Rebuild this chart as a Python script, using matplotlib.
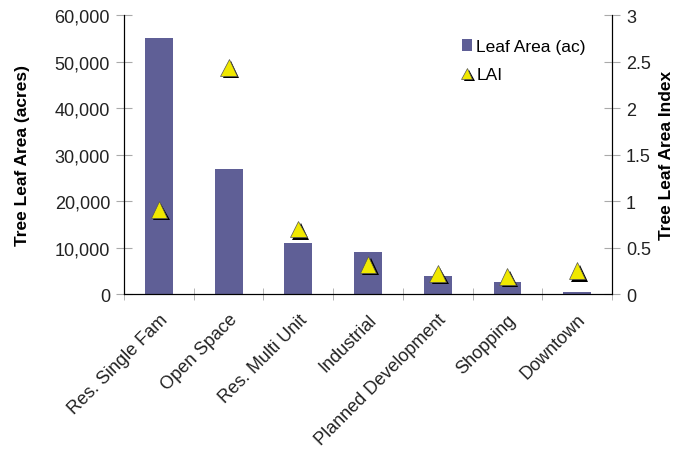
import numpy as np
import matplotlib.pyplot as plt
import matplotlib.patheffects as pe
import matplotlib.ticker as mticker
from matplotlib.lines import Line2D
from matplotlib.patches import Patch

plt.rcParams['font.family'] = ['Liberation Sans', 'DejaVu Sans']

categories = ["Res. Single Fam", "Open Space", "Res. Multi Unit", "Industrial",
              "Planned Development", "Shopping", "Downtown"]
leaf_area = [55000, 27000, 11000, 9000, 3900, 2600, 500]
lai = [0.91, 2.44, 0.70, 0.32, 0.22, 0.19, 0.25]

bar_color = "#5f5f96"
tri_color = "#f0e800"
shadow = [pe.SimplePatchShadow(offset=(1.8, -1.8), shadow_rgbFace="black", alpha=1.0),
          pe.Normal()]

fig = plt.figure(figsize=(6.75, 4.52), dpi=100)
ax = fig.add_axes([0.1837, 0.3473, 0.723, 0.617])
ax2 = ax.twinx()

x = np.arange(len(categories))
ax.bar(x, leaf_area, width=0.4, color=bar_color, zorder=2)
ax2.plot(x, lai, linestyle="none", marker="^", markersize=12, color=tri_color,
         markeredgecolor="#555555", markeredgewidth=0.5, zorder=3,
         path_effects=shadow)

ax.set_xlim(-0.5, len(categories) - 0.5)
ax.set_ylim(0, 60000)
ax2.set_ylim(0, 3)
ax.yaxis.set_major_locator(mticker.MultipleLocator(10000))
ax.yaxis.set_major_formatter(mticker.FuncFormatter(lambda v, _: f"{v:,.0f}"))
ax2.yaxis.set_major_locator(mticker.MultipleLocator(0.5))
ax2.yaxis.set_major_formatter(mticker.FuncFormatter(lambda v, _: f"{v:g}"))

ax.set_xticks(x)
ax.set_xticklabels(categories, rotation=45, ha="right", rotation_mode="anchor",
                   fontsize=13, color="#222222")
ax.tick_params(axis="x", length=0, pad=12)
ax.set_xticks(np.arange(len(categories) + 1) - 0.5, minor=True)
ax.tick_params(axis="x", which="minor", direction="inout", length=8, color="#aaaaaa")
ax.tick_params(axis="y", direction="inout", length=12, color="#aaaaaa",
               labelsize=13, labelcolor="#222222", pad=4)
ax2.tick_params(axis="y", direction="inout", length=12, color="#aaaaaa",
                labelsize=13, labelcolor="#222222", pad=4)

ax.set_ylabel("Tree Leaf Area (acres)", fontsize=12.5, fontweight="bold", labelpad=18)
ax2.set_ylabel("Tree Leaf Area Index", fontsize=12.5, fontweight="bold", labelpad=6)

for a in (ax, ax2):
    a.spines["top"].set_visible(False)

handles = [Patch(facecolor=bar_color, edgecolor="none"),
           Line2D([], [], linestyle="none", marker="^", markersize=8, color=tri_color,
                  markeredgecolor="#555555", markeredgewidth=0.5, path_effects=shadow)]
ax2.legend(handles, ["Leaf Area (ac)", "LAI"], loc="upper left",
           bbox_to_anchor=(0.66, 0.97), frameon=False, fontsize=12.5,
           handlelength=0.6, handleheight=0.6, handletextpad=0.25, labelspacing=0.75)

fig.savefig("out.png", dpi=100, facecolor="white")
